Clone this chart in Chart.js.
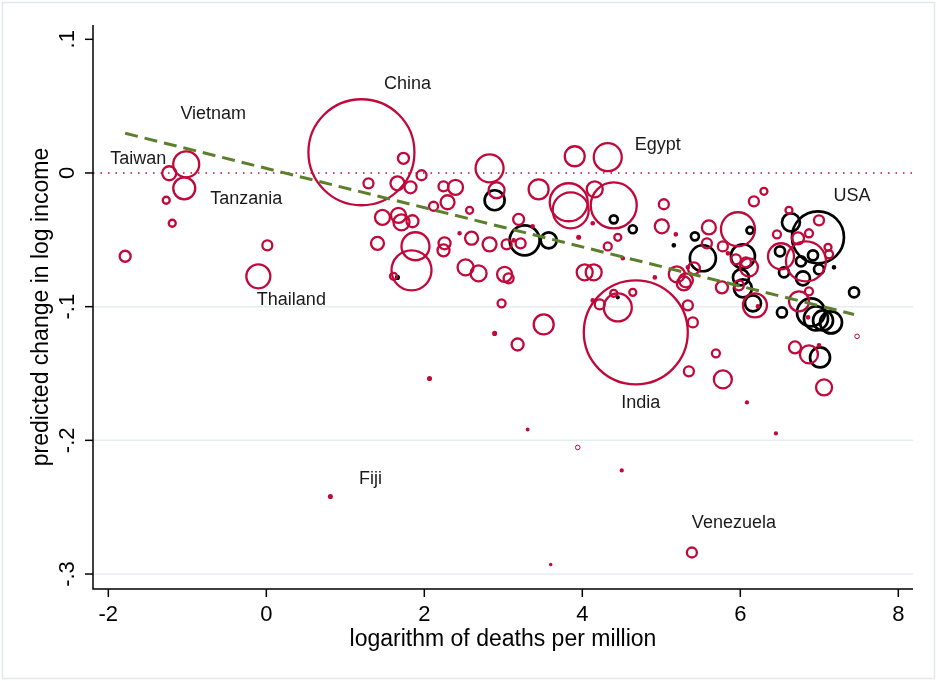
<!DOCTYPE html>
<html>
<head>
<meta charset="utf-8">
<script src="https://cdn.jsdelivr.net/npm/chart.js@4.4.1/dist/chart.umd.min.js"></script>
<style>
  html, body { margin: 0; padding: 0; background: #fff; }
  #chart { display: block; }
</style>
</head>
<body>
<canvas id="chart" width="937" height="681" style="width:937px;height:681px"></canvas>
<script>
// axis ranges and ticks
const xMin = -2.194, xMax = 8.186;
const yMin = -0.3112, yMax = 0.1107;
const xTicks = [-2, 0, 2, 4, 6, 8];
const xTickLabels = ['-2', '0', '2', '4', '6', '8'];
const yTicks = [-0.3, -0.2, -0.1, 0, 0.1];
const yTickLabels = ['-.3', '-.2', '-.1', '0', '.1'];
const gridValues = [-0.3, -0.2, -0.1];

// red markers (x = log deaths per million, y = predicted change, size = bubble radius)
const redX = [-1.229, -1.014, -1.039, -1.267, -1.191, -1.787, 0.013, -0.101, 1.204, 1.736,
  1.965, 1.293, 1.660, 1.825, 2.243, 2.395, 2.826, 2.915, 2.117, 2.294,
  2.573, 1.470, 1.673, 1.711, 1.850, 1.407, 1.888, 1.838, 1.610, 2.446,
  2.598, 2.256, 2.243, 2.826, 3.042, 2.522, 2.687, 3.016, 3.067, 2.978,
  2.890, 3.181, 3.194, 3.447, 3.828, 3.853, 4.157, 4.398, 3.904, 4.322,
  3.371, 3.219, 3.131, 3.954, 4.132, 4.449, 4.322, 4.512, 5.032, 5.006,
  5.184, 4.030, 4.144, 4.918, 5.196, 5.285, 4.677, 4.449, 4.398, 4.639,
  4.221, 4.132, 3.511, 5.336, 5.399, 5.349, 5.691, 5.779, 6.084, 6.451,
  3.308, 3.942, 4.499, 5.387, 3.600, 2.066, 0.811, 6.692, 6.869, 6.996,
  7.060, 6.299, 6.172, 5.602, 5.970, 5.577, 5.779, 5.843, 5.944, 6.071,
  6.109, 5.412, 5.336, 5.311, 5.982, 5.767, 6.185, 6.223, 6.616, 6.996,
  6.464, 6.730, 6.869, 6.515, 6.831, 7.110, 7.123, 6.869, 6.743, 6.857,
  7.478];
const redY = [-0.0002, 0.0065, -0.0115, -0.0204, -0.0376, -0.0623, -0.0541, -0.0773, 0.0155, 0.0110,
  -0.0017, -0.0077, -0.0077, -0.0107, -0.0100, -0.0107, 0.0035, -0.0129, -0.0249, -0.0219,
  -0.0279, -0.0332, -0.0317, -0.0369, -0.0361, -0.0526, -0.0548, -0.0728, -0.0773, -0.0451,
  -0.0488, -0.0526, -0.0579, -0.0534, -0.0534, -0.0706, -0.0751, -0.0758, -0.0788, -0.0975,
  -0.1200, -0.1283, -0.0347, -0.0122, -0.0219, -0.0279, -0.0122, -0.0242, 0.0125, 0.0118,
  -0.0399, -0.0526, -0.0504, -0.0481, -0.0376, -0.0481, -0.0549, -0.0638, -0.0234, -0.0399,
  -0.0459, -0.0743, -0.0743, -0.0781, -0.0758, -0.0826, -0.1192, -0.1006, -0.0900, -0.0893,
  -0.0983, -0.0953, -0.1133, -0.0990, -0.1118, -0.1484, -0.1349, -0.1544, -0.1716, -0.1948,
  -0.1919, -0.2053, -0.2225, -0.2839, -0.2929, -0.1537, -0.2420, -0.1305, -0.1357, -0.1290,
  -0.1604, -0.0137, -0.0212, -0.0407, -0.0421, -0.0526, -0.0549, -0.0601, -0.0646, -0.0668,
  -0.0706, -0.0713, -0.0706, -0.0803, -0.0840, -0.0856, -0.0990, -0.0998, -0.0279, -0.0354,
  -0.0459, -0.0489, -0.0451, -0.0623, -0.0661, -0.0556, -0.0608, -0.0885, -0.0960, -0.1080,
  -0.1222];
const redSize = [7, 13, 11, 3.5, 3.5, 5.5, 5, 12, 53, 5.5,
  5, 5, 7, 6, 5, 7.5, 14, 8, 4.5, 7,
  3.5, 7.5, 7.5, 8, 6, 6.5, 14, 20, 3.5, 1.5,
  6.5, 6, 6, 7, 5, 8, 8, 7.5, 5, 4,
  1.8, 6, 5.5, 10, 19, 18, 8, 23, 10, 14,
  1.6, 5, 1.6, 1.8, 1.6, 3.5, 4, 1.6, 5, 7,
  1.6, 8, 8, 1.6, 8, 7, 52, 14, 3.5, 3.5,
  5, 1.6, 10, 5, 5, 5, 4, 9, 1.4, 1.4,
  1.2, 2.3, 1.4, 5, 1.0, 1.8, 1.8, 6, 9, 1.6,
  8, 3.5, 5, 7, 17, 5, 5, 1.6, 5, 5,
  9, 6, 1.6, 7, 5, 6, 12, 1.6, 3.5, 5,
  4, 6, 4, 13, 20, 3.5, 4, 4, 10, 1.6,
  2.3];

// black markers
const blackX = [2.890, 1.660, 3.270, 3.574, 4.398, 4.639, 4.449, 5.158, 5.425, 5.526,
  6.122, 6.033, 6.008, 6.033, 6.160, 6.641, 6.983, 6.502, 6.920, 6.768,
  7.186, 6.996, 6.553, 6.793, 7.440, 6.527, 6.895, 6.958, 7.047, 7.148,
  7.009];
const blackY = [-0.0204, -0.0781, -0.0504, -0.0504, -0.0347, -0.0421, -0.0930, -0.0541, -0.0474, -0.0638,
  -0.0429, -0.0623, -0.0781, -0.0863, -0.0975, -0.0369, -0.0481, -0.0586, -0.0616, -0.0661,
  -0.0706, -0.0721, -0.0743, -0.0788, -0.0893, -0.1043, -0.1043, -0.1088, -0.1103, -0.1118,
  -0.1380];
const blackSize = [10, 1.8, 15, 8, 4, 4, 1.4, 1.6, 4, 13,
  3.5, 12, 8, 9, 8, 9, 26, 5, 5, 5,
  1.6, 5, 5, 7, 5, 5, 14, 12, 10, 11,
  10];

// fitted line end points
const fitX = [-1.787, 7.440];
const fitY = [0.0297, -0.1058];

// country labels
const labelNames = ['China', 'Vietnam', 'Taiwan', 'Tanzania', 'Thailand', 'Egypt', 'USA', 'India', 'Venezuela', 'Fiji'];
const labelX = [1.787, -0.672, -1.622, -0.253, 0.317, 4.956, 7.414, 4.740, 5.919, 1.318];
const labelY = [0.0669, 0.0439, 0.0103, -0.0197, -0.0953, 0.0207, -0.0174, -0.1724, -0.2615, -0.2293];

const RED = '#c0093a';
const FONT = '"Liberation Sans", Arial, Helvetica, sans-serif';

function toBubbles(xs, ys, rs) {
  return xs.map((x, i) => ({ x: x, y: ys[i], r: rs[i] }));
}

// tiny weights are drawn as solid dots, the rest as hollow rings
function ringWidth(base) {
  return function (ctx) {
    const p = ctx.raw;
    if (!p) return base;
    if (p.r <= 2) return 1.5;
    if (p.r < 2.6) return 1;
    return base;
  };
}
function dotFill(color) {
  return function (ctx) {
    const p = ctx.raw;
    return p && p.r <= 2 ? color : 'rgba(0,0,0,0)';
  };
}

const stataPlot = {
  id: 'stataPlot',
  beforeDraw(chart) {
    const c = chart.ctx;
    c.save();
    c.fillStyle = '#ffffff';
    c.fillRect(0, 0, chart.width, chart.height);
    c.strokeStyle = '#e2e9ec';
    c.lineWidth = 1.5;
    c.strokeRect(2.5, 2.5, chart.width - 5, chart.height - 5);
    c.restore();
  },
  beforeDatasetsDraw(chart) {
    const c = chart.ctx, a = chart.chartArea, y = chart.scales.y;
    c.save();
    c.strokeStyle = '#e6edf1';
    c.lineWidth = 1.5;
    gridValues.forEach(v => {
      const py = y.getPixelForValue(v);
      c.beginPath();
      c.moveTo(a.left, py);
      c.lineTo(a.right, py);
      c.stroke();
    });
    c.restore();
  },
  afterDatasetsDraw(chart) {
    const c = chart.ctx, a = chart.chartArea;
    const xs = chart.scales.x, ys = chart.scales.y;
    c.save();
    c.strokeStyle = '#000';
    c.lineWidth = 1.5;
    c.beginPath();
    c.moveTo(a.left, a.top);
    c.lineTo(a.left, a.bottom);
    c.lineTo(a.right, a.bottom);
    c.stroke();

    c.fillStyle = '#000';
    c.font = '22px ' + FONT;
    c.textAlign = 'center';
    c.textBaseline = 'middle';
    xTicks.forEach((v, i) => {
      const px = xs.getPixelForValue(v);
      c.beginPath();
      c.moveTo(px, a.bottom);
      c.lineTo(px, a.bottom + 8);
      c.stroke();
      c.fillText(xTickLabels[i], px, a.bottom + 26);
    });
    yTicks.forEach((v, i) => {
      const py = ys.getPixelForValue(v);
      c.beginPath();
      c.moveTo(a.left, py);
      c.lineTo(a.left - 8, py);
      c.stroke();
      c.save();
      c.translate(a.left - 25, py);
      c.rotate(-Math.PI / 2);
      c.fillText(yTickLabels[i], 0, 0);
      c.restore();
    });

    c.font = '23px ' + FONT;
    c.fillText('logarithm of deaths per million', (a.left + a.right) / 2, a.bottom + 51);
    c.save();
    c.translate(42, (a.top + a.bottom) / 2);
    c.rotate(-Math.PI / 2);
    c.fillText('predicted change in log income', 0, 0);
    c.restore();

    c.font = '18px ' + FONT;
    c.fillStyle = '#1a1a1a';
    labelNames.forEach((name, i) => {
      c.fillText(name, xs.getPixelForValue(labelX[i]), ys.getPixelForValue(labelY[i]));
    });
    c.restore();
  }
};

new Chart(document.getElementById('chart'), {
  type: 'bubble',
  data: {
    datasets: [
      {
        type: 'line',
        label: 'fit',
        data: fitX.map((x, i) => ({ x: x, y: fitY[i] })),
        borderColor: '#5b7f2b',
        borderWidth: 3,
        borderDash: [13, 7],
        pointRadius: 0,
        fill: false,
        order: 0
      },
      {
        label: 'red',
        data: toBubbles(redX, redY, redSize),
        backgroundColor: dotFill(RED),
        borderColor: RED,
        borderWidth: ringWidth(2.3),
        order: 1
      },
      {
        label: 'black',
        data: toBubbles(blackX, blackY, blackSize),
        backgroundColor: dotFill('#000'),
        borderColor: '#000',
        borderWidth: ringWidth(2.7),
        order: 1
      },
      {
        type: 'line',
        label: 'zero',
        data: [{ x: xMin, y: 0 }, { x: xMax, y: 0 }],
        borderColor: RED,
        borderWidth: 1.5,
        borderDash: [1.5, 6],
        pointRadius: 0,
        fill: false,
        order: 2
      }
    ]
  },
  options: {
    responsive: false,
    animation: false,
    events: [],
    layout: { autoPadding: false, padding: { left: 93, right: 24, top: 25, bottom: 92 } },
    plugins: { legend: { display: false }, tooltip: { enabled: false } },
    elements: { point: { hoverRadius: 0 } },
    scales: {
      x: { type: 'linear', min: xMin, max: xMax, display: false },
      y: { type: 'linear', min: yMin, max: yMax, display: false }
    }
  },
  plugins: [stataPlot]
});
</script>
</body>
</html>
